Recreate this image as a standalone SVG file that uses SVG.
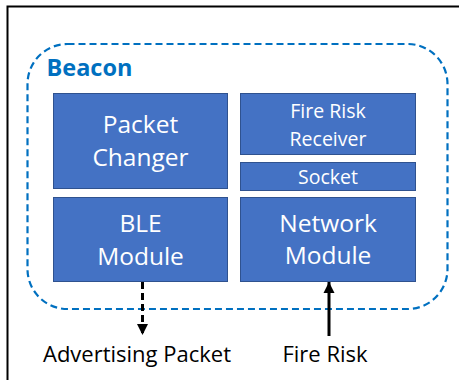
<svg xmlns="http://www.w3.org/2000/svg" width="459" height="380" viewBox="0 0 459 380">
  <style>
    .box { fill: #4472C4; stroke: #2F528F; stroke-width: 1; }
    .lbl { font-family: "Open Sans", "Liberation Sans", sans-serif; fill: #FFFFFF; text-anchor: middle; }
    .big { font-size: 24.5px; }
    .small { font-size: 19.5px; }
    .out { font-family: "Open Sans", "Liberation Sans", sans-serif; font-size: 22px; fill: #000000; text-anchor: middle; }
    .link { stroke: #000000; stroke-width: 3; fill: none; }
  </style>
  <defs>
    <marker id="head" viewBox="0 0 10 10" refX="10" refY="5" markerWidth="3.8" markerHeight="3.8" markerUnits="strokeWidth" orient="auto">
      <path d="M0,0 L10,5 L0,10 Z" fill="#000000"/>
    </marker>
  </defs>

  <rect width="459" height="380" fill="#FFFFFF"/>
  <!-- frame lines -->
  <path d="M7.5,380 L7.5,6.5 L459,6.5" fill="none" stroke="#000000" stroke-width="2"/>

  <!-- beacon container -->
  <g id="beacon">
    <rect x="27.5" y="44" width="420" height="265" rx="40" ry="40" fill="none" stroke="#0070C0" stroke-width="2.2" stroke-dasharray="7,4"/>
    <text x="46.5" y="76" font-family="Open Sans, Liberation Sans, sans-serif" font-size="23.5" font-weight="bold" fill="#0070C0">Beacon</text>
  </g>

  <g id="packet-changer">
    <rect class="box" x="53.5" y="93.5" width="174" height="95"/>
    <text class="lbl big" x="140.5" y="133">Packet</text>
    <text class="lbl big" x="140.5" y="166">Changer</text>
  </g>

  <g id="fire-risk-receiver">
    <rect class="box" x="240.5" y="93.5" width="175" height="61"/>
    <text class="lbl small" x="328" y="118">Fire Risk</text>
    <text class="lbl small" x="328" y="145.5">Receiver</text>
  </g>

  <g id="socket">
    <rect class="box" x="240.5" y="162.5" width="175" height="28"/>
    <text class="lbl small" x="328" y="184">Socket</text>
  </g>

  <g id="ble-module">
    <rect class="box" x="53.5" y="197.5" width="174" height="84"/>
    <text class="lbl big" x="140.5" y="232">BLE</text>
    <text class="lbl big" x="140.5" y="265">Module</text>
  </g>

  <g id="network-module">
    <rect class="box" x="240.5" y="197.5" width="175" height="84"/>
    <text class="lbl big" x="328" y="232">Network</text>
    <text class="lbl big" x="328" y="264">Module</text>
  </g>

  <g id="connectors">
    <line class="link" x1="142.5" y1="282" x2="142.5" y2="335" stroke-dasharray="7,4" marker-end="url(#head)"/>
    <line class="link" x1="329" y1="336" x2="329" y2="282" marker-end="url(#head)"/>
  </g>

  <g id="labels">
    <text class="out" x="137" y="362">Advertising Packet</text>
    <text class="out" x="325" y="362">Fire Risk</text>
  </g>
</svg>
